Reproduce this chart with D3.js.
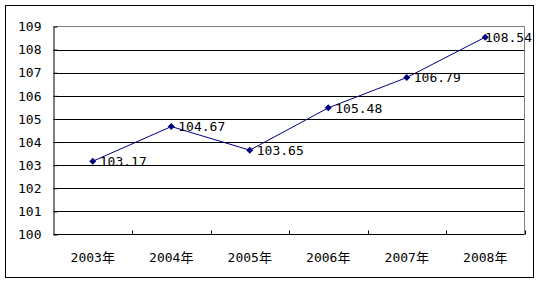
<!DOCTYPE html>
<html>
<head>
<meta charset="utf-8">
<script src="https://cdn.jsdelivr.net/npm/d3@7"></script>
<style>
  body { margin: 0; background: #fff; }
  text { font-family: "DejaVu Sans Mono", "Noto Sans CJK SC", monospace; font-size: 13px; fill: #000; }
</style>
</head>
<body>
<svg id="chart" width="540" height="283"></svg>
<script>
// Data
var years = ["2003年", "2004年", "2005年", "2006年", "2007年", "2008年"];
var values = [103.17, 104.67, 103.65, 105.48, 106.79, 108.54];
var yTicks = [100, 101, 102, 103, 104, 105, 106, 107, 108, 109];

var svg = d3.select("#chart");

// Dimensions
var dim = { left: 53.5, right: 524.5, top: 26.5, bottom: 234.5 };

// outer frame
svg.append("rect")
   .attr("x", 5.5).attr("y", 5.5)
   .attr("width", 528).attr("height", 272)
   .attr("fill", "#fff")
   .attr("stroke", "#000");

var xScale = d3.scaleBand()
               .domain(years)
               .range([dim.left, dim.right]);
var yScale = d3.scaleLinear()
               .domain([100, 109])
               .range([dim.bottom, dim.top]);

// gridlines (black)
svg.append("g")
   .selectAll("line")
   .data(yTicks.filter(function(d) { return d > 100 && d < 109; }))
   .enter()
   .append("line")
   .attr("x1", dim.left).attr("x2", dim.right)
   .attr("y1", function(d) { return Math.round(yScale(d)) + 0.5; })
   .attr("y2", function(d) { return Math.round(yScale(d)) + 0.5; })
   .attr("stroke", "#000");

// plot border top and right (gray)
svg.append("path")
   .attr("d", "M" + dim.left + "," + dim.top + "H" + dim.right + "V" + dim.bottom)
   .attr("fill", "none")
   .attr("stroke", "#808080");

// y axis, ticks inside
var yAxis = d3.axisLeft(yScale)
              .tickValues(yTicks)
              .tickSizeInner(-4)
              .tickSizeOuter(0)
              .tickPadding(12)
              .tickFormat(d3.format("d"));
var gy = svg.append("g")
   .attr("transform", "translate(" + dim.left + ",0)")
   .call(yAxis);
gy.selectAll("text").style("font-size", "13px").style("font-family", null);
gy.select(".domain").attr("stroke", "#000");

// x axis: ticks at band boundaries, inside
var gx = svg.append("g")
   .attr("transform", "translate(0," + dim.bottom + ")");
gx.append("line")
  .attr("x1", dim.left).attr("x2", dim.right)
  .attr("stroke", "#000");
gx.selectAll(".tk")
  .data(years)
  .enter()
  .append("line")
  .attr("class", "tk")
  .attr("x1", function(d) { return Math.round(xScale(d) + xScale.bandwidth()) + 0.5; })
  .attr("x2", function(d) { return Math.round(xScale(d) + xScale.bandwidth()) + 0.5; })
  .attr("y1", 0).attr("y2", -4)
  .attr("stroke", "#000");
gx.selectAll(".lbl")
  .data(years)
  .enter()
  .append("text")
  .attr("class", "lbl")
  .attr("x", function(d) { return xScale(d) + xScale.bandwidth() / 2; })
  .attr("y", 27)
  .attr("text-anchor", "middle")
  .text(function(d) { return d; });

// line
var pts = years.map(function(y, i) { return { year: y, v: values[i] }; });
var line = d3.line()
             .x(function(d) { return xScale(d.year) + xScale.bandwidth() / 2; })
             .y(function(d) { return yScale(d.v); });
svg.append("path")
   .datum(pts)
   .attr("d", line)
   .attr("fill", "none")
   .attr("stroke", "#000080")
   .attr("stroke-width", 1);

// diamond markers
svg.append("g")
   .selectAll("path")
   .data(pts)
   .enter()
   .append("path")
   .attr("transform", function(d) {
     return "translate(" + (xScale(d.year) + xScale.bandwidth() / 2) + "," + yScale(d.v) + ")";
   })
   .attr("d", "M0,-3.5L3.5,0L0,3.5L-3.5,0Z")
   .attr("fill", "#000080");

// value labels
svg.append("g")
   .selectAll("text")
   .data(pts)
   .enter()
   .append("text")
   .attr("x", function(d) {
     var x = xScale(d.year) + xScale.bandwidth() / 2 + 7;
     return Math.min(x, 532 - 47);
   })
   .attr("y", function(d) { return yScale(d.v); })
   .attr("dy", "0.36em")
   .text(function(d) { return d.v.toFixed(2); });
</script>
</body>
</html>
